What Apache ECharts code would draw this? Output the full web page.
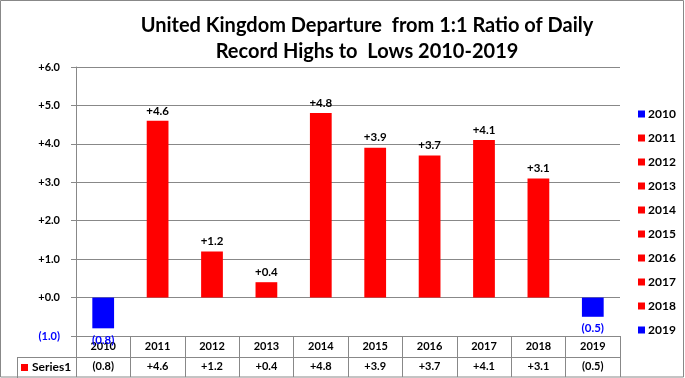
<!DOCTYPE html>
<html>
<head>
<meta charset="utf-8">
<script src="https://cdn.jsdelivr.net/npm/echarts@6/dist/echarts.min.js"></script>
<style>
html,body{margin:0;padding:0;background:#fff;}
#c{width:685px;height:378px;}
</style>
</head>
<body>
<div id="c"></div>
<script>
// ---- data ----
const years = ['2010','2011','2012','2013','2014','2015','2016','2017','2018','2019'];
const values = [-0.8, 4.6, 1.2, 0.4, 4.8, 3.9, 3.7, 4.1, 3.1, -0.5];
const yTicks = [-1, 0, 1, 2, 3, 4, 5, 6];
const titleLines = ['United Kingdom Departure  from 1:1 Ratio of Daily', 'Record Highs to  Lows 2010-2019'];
const seriesName = 'Series1';

// ---- style ----
const RED = '#FF0000', BLUE = '#0000FF', GRAY = '#888888';
const FONT = 'Lato';
const G = {left: 76, right: 65, top: 67, bottom: 42};
const W = 685, H = 378;

function fmt(v) {
  return v >= 0 ? '+' + v.toFixed(1) : '(' + Math.abs(v).toFixed(1) + ')';
}

const chart = echarts.init(document.getElementById('c'), null, {renderer: 'canvas'});

const series = years.map((y, i) => {
  const v = values[i];
  const neg = v < 0;
  return {
    name: y,
    type: 'bar',
    stack: 'all',
    barWidth: '40%',
    data: values.map((val, j) => j === i ? val : '-'),
    itemStyle: {color: neg ? BLUE : RED},
    label: {
      show: true,
      position: neg ? 'bottom' : 'top',
      distance: neg ? 6 : 4,
      formatter: p => fmt(p.value),
      fontFamily: FONT, fontWeight: 'bold', fontSize: 11.5,
      color: neg ? BLUE : '#000'
    }
  };
});

const gridBottomY = H - G.bottom;

chart.setOption({
  animation: false,
  textStyle: {fontFamily: FONT},
  title: {
    text: titleLines.join('\n'),
    left: 362, top: 8, textAlign: 'center',
    textStyle: {fontFamily: FONT, fontWeight: 'bold', fontSize: 20, lineHeight: 26, color: '#000'}
  },
  legend: {
    data: years,
    orient: 'vertical',
    left: 633, top: 102,
    itemWidth: 7, itemHeight: 7, itemGap: 10,
    icon: 'rect',
    textStyle: {fontFamily: FONT, fontWeight: 'bold', fontSize: 12, lineHeight: 14, color: '#000', padding: [0,0,0,-2]},
    selectedMode: false
  },
  grid: {left: G.left, right: G.right, top: G.top, bottom: G.bottom, containLabel: false},
  xAxis: [{
    type: 'category',
    data: years,
    position: 'bottom',
    axisLine: {show: true, onZero: false, lineStyle: {color: GRAY}},
    axisTick: {show: true, length: 41, interval: 0, lineStyle: {color: GRAY}},
    axisLabel: {fontFamily: FONT, fontWeight: 'bold', fontSize: 11, color: '#000', margin: 5, interval: 0},
    splitLine: {show: false}
  }, {
    type: 'category',
    data: values.map(fmt),
    position: 'bottom',
    offset: 21,
    axisLine: {show: true, onZero: false, lineStyle: {color: GRAY}},
    axisTick: {show: false},
    axisLabel: {fontFamily: FONT, fontWeight: 'bold', fontSize: 11, color: '#000', margin: 4, interval: 0},
    splitLine: {show: false}
  }],
  yAxis: {
    type: 'value',
    min: yTicks[0], max: yTicks[yTicks.length - 1], interval: 1,
    axisLine: {show: true, lineStyle: {color: GRAY}},
    axisTick: {show: true, length: 5, lineStyle: {color: GRAY}},
    splitLine: {show: true, lineStyle: {color: GRAY}},
    axisLabel: {
      margin: 16,
      formatter: v => v < 0 ? '{n|' + fmt(v) + '}' : '{p|' + fmt(v) + '}',
      rich: {
        p: {fontFamily: FONT, fontWeight: 'bold', fontSize: 11, color: '#000'},
        n: {fontFamily: FONT, fontWeight: 'bold', fontSize: 11, color: BLUE}
      }
    }
  },
  series: series,
  graphic: [
    {type: 'rect', shape: {x: 0.5, y: 0.5, width: W - 2, height: H - 1.5}, style: {fill: 'none', stroke: GRAY, lineWidth: 1}, silent: true},
    {type: 'line', shape: {x1: 17, y1: gridBottomY + 21.5, x2: G.left, y2: gridBottomY + 21.5}, style: {stroke: GRAY, lineWidth: 1}, silent: true},
    {type: 'line', shape: {x1: 17.5, y1: gridBottomY + 21, x2: 17.5, y2: H}, style: {stroke: GRAY, lineWidth: 1}, silent: true},
    {type: 'rect', shape: {x: 21, y: gridBottomY + 28, width: 7, height: 7}, style: {fill: RED}, silent: true},
    {type: 'text', style: {x: 32, y: gridBottomY + 31.5, text: seriesName, fontFamily: FONT, fontWeight: 'bold', fontSize: 12, fill: '#000', textVerticalAlign: 'middle', verticalAlign: 'middle'}, silent: true}
  ]
});
</script>
</body>
</html>
